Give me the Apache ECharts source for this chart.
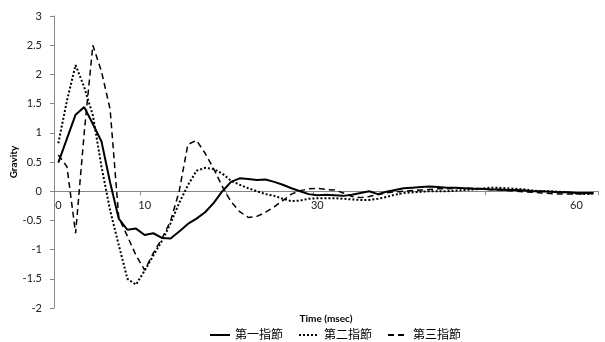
<!DOCTYPE html>
<html>
<head>
<meta charset="utf-8">
<script src="https://cdn.jsdelivr.net/npm/echarts@6/dist/echarts.min.js"></script>
<style>
html,body{margin:0;padding:0;background:#fff;}
#chart{width:605px;height:342px;}
</style>
</head>
<body>
<div id="chart"></div>
<script>
// Time (msec) categories
const categories = [0,1,2,3,4,5,6,7,8,9,10,11,12,13,14,15,16,17,18,19,20,21,22,23,24,25,26,27,28,29,30,31,32,33,34,35,36,37,38,39,40,41,42,43,44,45,46,47,48,49,50,51,52,53,54,55,56,57,58,59,60,61,62];
// x tick labels that are shown
const xTickLabels = ['0','10','30','60'];
// y tick labels
const yTickMin = -2, yTickMax = 3, yTickStep = 0.5;

const seriesNames = ['第一指節','第二指節','第三指節'];

const joint1 = [0.49,0.9,1.31,1.44,1.15,0.85,0.15,-0.47,-0.66,-0.64,-0.75,-0.72,-0.8,-0.81,-0.69,-0.56,-0.47,-0.36,-0.2,0.0,0.16,0.22,0.21,0.19,0.2,0.16,0.11,0.05,0.0,-0.05,-0.07,-0.06,-0.07,-0.08,-0.06,-0.03,0.0,-0.05,-0.01,0.02,0.05,0.06,0.07,0.08,0.07,0.06,0.06,0.05,0.04,0.04,0.03,0.03,0.02,0.02,0.01,0.0,0.0,-0.01,-0.02,-0.02,-0.03,-0.03,-0.03];

const joint2 = [0.82,1.55,2.16,1.78,1.3,0.42,-0.33,-0.92,-1.5,-1.6,-1.36,-1.1,-0.85,-0.55,-0.2,0.1,0.35,0.4,0.38,0.3,0.18,0.11,0.05,0.0,-0.05,-0.08,-0.13,-0.17,-0.16,-0.13,-0.12,-0.12,-0.12,-0.13,-0.14,-0.15,-0.15,-0.13,-0.1,-0.06,-0.03,-0.02,-0.01,0.0,0.0,0.0,0.01,0.02,0.03,0.04,0.06,0.06,0.05,0.04,0.03,0.01,0.0,0.0,-0.01,-0.02,-0.04,-0.05,-0.04];

const joint3 = [0.62,0.42,-0.72,1.0,2.5,2.05,1.4,-0.45,-0.77,-1.1,-1.35,-1.06,-0.81,-0.51,0.0,0.8,0.87,0.65,0.38,0.08,-0.18,-0.35,-0.45,-0.43,-0.36,-0.27,-0.16,-0.05,0.01,0.04,0.05,0.03,0.02,-0.03,-0.09,-0.11,-0.09,-0.06,-0.03,-0.01,0.0,0.01,0.02,0.03,0.04,0.04,0.05,0.05,0.05,0.04,0.03,0.02,0.01,0.0,-0.01,-0.02,-0.03,-0.04,-0.05,-0.05,-0.05,-0.04,-0.04];

const font = 'Lato, "Noto Sans CJK JP", sans-serif';
const gridTop = 16, gridBottom = 34, chartH = 342;
const plotH = chartH - gridTop - gridBottom;
// distance from bottom of grid to the zero line
const zeroOffset = plotH * (0 - yTickMin) / (yTickMax - yTickMin);

const chart = echarts.init(document.getElementById('chart'), null, {renderer:'canvas'});

chart.setOption({
  animation:false,
  backgroundColor:'#fff',
  textStyle:{fontFamily:font},
  grid:{left:54,right:7,top:gridTop,bottom:gridBottom,containLabel:false,outerBoundsMode:'none'},
  legend:{
    top:324,left:204,
    itemWidth:20,itemHeight:10,itemGap:15,
    itemStyle:{opacity:0},
    textStyle:{fontFamily:font,fontSize:12,color:'#000'},
    data:seriesNames
  },
  xAxis:{
    type:'category',
    data:categories.map(String),
    boundaryGap:true,
    position:'bottom',
    offset:-zeroOffset,
    name:'Time (msec)',
    nameLocation:'middle',
    nameGap:123,
    nameMoveOverlap:false,
    nameTextStyle:{fontFamily:font,fontSize:10,fontWeight:'bold',color:'#000'},
    axisLine:{onZero:false,lineStyle:{color:'#868686',width:1}},
    axisTick:{show:true,interval:9,length:4,inside:false,lineStyle:{color:'#868686'}},
    axisLabel:{
      interval:0,margin:9,fontSize:11,color:'#222',fontFamily:font,
      formatter:function(v){return xTickLabels.indexOf(v)>=0?v:'';}
    },
    splitLine:{show:false}
  },
  yAxis:{
    type:'value',
    min:yTickMin,max:yTickMax,interval:yTickStep,
    name:'Gravity',
    nameLocation:'middle',
    nameGap:35,
    nameMoveOverlap:false,
    nameRotate:90,
    nameTextStyle:{fontFamily:font,fontSize:10,fontWeight:'bold',color:'#000'},
    axisLine:{show:true,onZero:false,lineStyle:{color:'#868686',width:1}},
    axisTick:{show:true,length:4,inside:false,lineStyle:{color:'#868686'}},
    axisLabel:{margin:12,fontSize:11,color:'#222',fontFamily:font},
    splitLine:{show:false}
  },
  series:[
    {name:seriesNames[0],type:'line',data:joint1,symbol:'none',
     lineStyle:{color:'#000',width:2,type:'solid'},itemStyle:{color:'#000'}},
    {name:seriesNames[1],type:'line',data:joint2,symbol:'none',
     lineStyle:{color:'#000',width:2,type:[2,2]},itemStyle:{color:'#000'}},
    {name:seriesNames[2],type:'line',data:joint3,symbol:'none',
     lineStyle:{color:'#000',width:1.5,type:[6,4]},itemStyle:{color:'#000'}}
  ]
});
</script>
</body>
</html>
